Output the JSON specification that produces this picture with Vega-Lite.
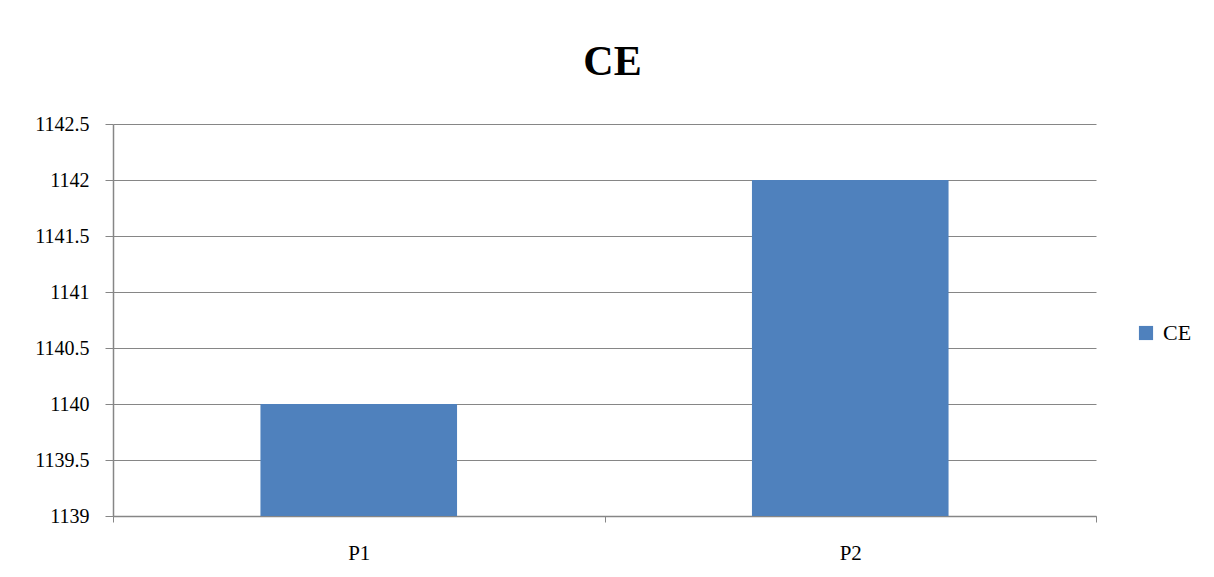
{
  "$schema": "https://vega.github.io/schema/vega-lite/v6.json",
  "width": 983,
  "height": 392,
  "autosize": {"type": "none"},
  "padding": {"left": 113, "top": 124, "right": 118, "bottom": 61},
  "background": "white",
  "title": {"text": "CE", "font": "Liberation Serif", "fontSize": 42, "fontWeight": "bold", "color": "#000000", "anchor": "middle", "offset": 30, "dx": 8},
  "data": {"values": [
    {"category": "P1", "series": "CE", "value": 1140},
    {"category": "P2", "series": "CE", "value": 1142}
  ]},
  "mark": {"type": "bar", "clip": true, "width": {"band": 0.4}},
  "encoding": {
    "x": {"field": "category", "type": "nominal",
      "scale": {"paddingInner": 0, "paddingOuter": 0},
      "axis": {"title": null, "labelAngle": 0, "labelFont": "Liberation Serif", "labelFontSize": 21, "labelColor": "#000000", "labelPadding": 20, "tickBand": "extent", "tickColor": "#868686", "tickSize": 6, "domainColor": "#868686", "domainWidth": 1.5, "grid": false}},
    "y": {"field": "value", "type": "quantitative",
      "scale": {"domain": [1139, 1142.5], "zero": false, "nice": false},
      "axis": {"title": null, "values": [1139, 1139.5, 1140, 1140.5, 1141, 1141.5, 1142, 1142.5], "format": ".1~f", "labelFont": "Liberation Serif", "labelFontSize": 20, "labelColor": "#000000", "labelPadding": 16, "tickColor": "#868686", "tickSize": 8, "domainColor": "#868686", "domainWidth": 1.5, "grid": true, "gridColor": "#868686", "gridWidth": 1}},
    "y2": {"datum": 1139},
    "color": {"field": "series", "type": "nominal",
      "scale": {"range": ["#4F81BD"]},
      "legend": {"title": null, "orient": "none", "legendX": 1022, "legendY": 198, "symbolType": "square", "symbolSize": 200, "symbolStrokeWidth": 0, "labelFont": "Liberation Serif", "labelFontSize": 22, "labelColor": "#000000", "labelOffset": 6}}
  },
  "config": {"view": {"stroke": null}}
}
